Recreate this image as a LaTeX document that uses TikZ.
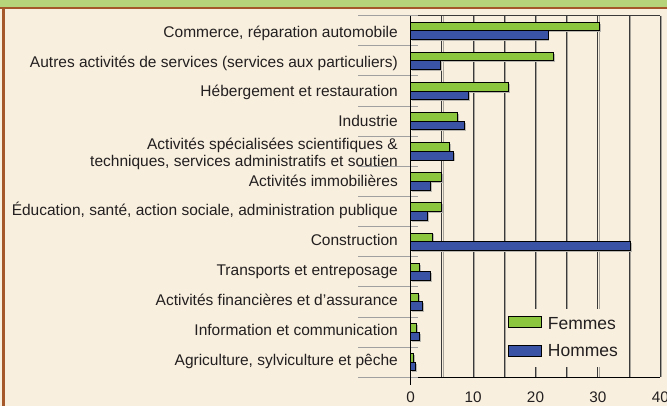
\documentclass[tikz,border=0pt]{standalone}
\usepackage{fontspec}
\setmainfont{Liberation Sans}
\definecolor{cream}{HTML}{F8EFDE}
\definecolor{band}{HTML}{B6D47A}
\definecolor{brown}{HTML}{A5582A}
\definecolor{gbar}{HTML}{8CC63E}
\definecolor{bbar}{HTML}{3A53A4}
\definecolor{griddark}{HTML}{3A3A3A}
\definecolor{gridshade}{HTML}{A8A49C}
\definecolor{sepgray}{HTML}{A0A0A0}
\definecolor{txt}{HTML}{231F20}
\tikzset{
  catlab/.style={anchor=base east, inner sep=0pt, text=txt, font=\fontsize{15.5}{18}\selectfont},
  ticklab/.style={anchor=base, inner sep=0pt, text=txt, font=\fontsize{15.3}{18}\selectfont},
  leglab/.style={anchor=base west, inner sep=0pt, text=txt, font=\fontsize{17.5}{20}\selectfont},
  gridln/.style={griddark, line width=1pt},
  gridsh/.style={gridshade, line width=1pt},
  sepln/.style={sepgray, line width=1pt},
  femmes/.style={fill=gbar, draw=black, line width=0.9pt},
  hommes/.style={fill=bbar, draw=black, line width=0.9pt},
  barshadow/.style={fill=gridshade!80},
}
\begin{document}
\begin{tikzpicture}[x=1pt,y=-1pt]
\useasboundingbox (0,0) rectangle (667,406);
% frame
\fill[cream] (0,0) rectangle (667,406);
\fill[band] (0,0) rectangle (667,6.7);
\fill[brown] (0,6.7) rectangle (667,9.3);
\fill[brown] (2,6.7) rectangle (4.7,406);
% grid lines
\foreach \k in {1,...,8}{
  \pgfmathsetmacro\gx{410.7+5*\k*6.24}
  \draw[gridsh] (\gx+1.2,15.7) -- (\gx+1.2,377.3);
  \draw[gridln] (\gx,15.7) -- (\gx,377.3);
}
\draw[gridln] (410.7,15.7) -- (660.3,15.7);
% legend background
\fill[cream] (506,309) rectangle (623,367.3);
% separators
\foreach \k in {0,...,12}{
  \pgfmathsetmacro\sy{15.7+\k*30.13}
  \draw[sepln] (358,\sy) -- (418,\sy);
}
\draw[black, line width=1pt] (418,377.3) -- (660.3,377.3);
\draw[black, line width=1pt] (410.7,15.7) -- (410.7,385);
% bars
\foreach \i/\f/\h in {1/30.3/22.0, 2/22.9/4.75, 3/15.6/9.3, 4/7.5/8.6, 5/6.2/6.8, 6/4.9/3.1, 7/4.9/2.7, 8/3.5/35.2, 9/1.4/3.2, 10/1.2/1.9, 11/0.96/1.4, 12/0.5/0.7}{
  \pgfmathsetmacro\c{15.7+(\i-0.5)*30.13}
  \pgfmathsetmacro\fx{410.7+\f*6.24}
  \pgfmathsetmacro\hx{410.7+\h*6.24}
  \fill[barshadow] (412.2,\c-7.2) rectangle (\fx+1.5,\c+1.5);
  \fill[barshadow] (412.2,\c+1.5) rectangle (\hx+1.5,\c+10.2);
  \draw[femmes] (410.7,\c-8.7) rectangle (\fx,\c);
  \draw[hommes] (410.7,\c) rectangle (\hx,\c+8.7);
}
% category labels
\node[catlab] (l1) at (398,37.3) {Commerce, réparation automobile};
\node[catlab] (l2) at (398,67.1) {Autres activités de services (services aux particuliers)};
\node[catlab] (l3) at (398,96.9) {Hébergement et restauration};
\node[catlab] (l4) at (398,126.7) {Industrie};
\node[catlab] (l5a) at (398,149.3) {Activités spécialisées scientifiques \&};
\node[catlab] (l5b) at (398,166.9) {techniques, services administratifs et soutien};
\node[catlab] (l6) at (398,186.2) {Activités immobilières};
\node[catlab] (l7) at (398,216.0) {Éducation, santé, action sociale, administration publique};
\node[catlab] (l8) at (398,245.8) {Construction};
\node[catlab] (l9) at (398,275.6) {Transports et entreposage};
\node[catlab] (l10) at (398,305.4) {Activités financières et d'assurance};
\node[catlab] (l11) at (398,335.2) {Information et communication};
\node[catlab] (l12) at (398,365.0) {Agriculture, sylviculture et pêche};
% tick labels
\foreach \v in {0,10,20,30,40}{
  \node[ticklab] (t\v) at ({410.7+\v*6.24},402.3) {\v};
}
% legend
\draw[femmes] (508.3,316.7) rectangle (541,327.7);
\draw[hommes] (508.3,345) rectangle (541,356);
\node[leglab] (lf) at (547.7,329.5) {Femmes};
\node[leglab] (lh) at (547.7,356.5) {Hommes};
\end{tikzpicture}
\end{document}
